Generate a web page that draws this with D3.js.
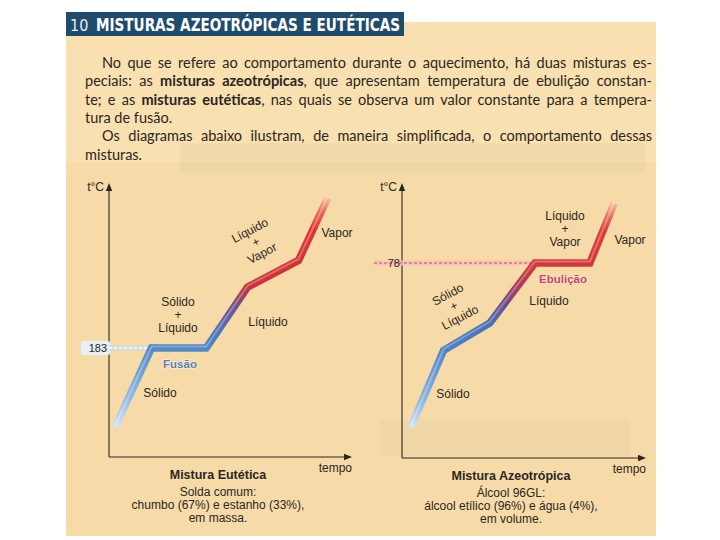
<!DOCTYPE html>
<html>
<head>
<meta charset="utf-8">
<script src="https://cdn.jsdelivr.net/npm/d3@7/dist/d3.min.js"></script>
<style>
  body { margin: 0; background: #fff; }
  svg { display: block; }
  .para { font-family: "Lato", "Liberation Sans", sans-serif; font-size: 14.5px; fill: #2b2622; }
  .lbl { font-family: "Liberation Sans", Arial, sans-serif; font-size: 12px; fill: #2b2622; }
</style>
</head>
<body>
<div id="page"></div>
<script>
// eutectic mixture (solder): time (arbitrary units) vs temperature
var eutTime = [0.25, 1.75, 4.0, 5.7, 7.8, 9.0];
var eutTemp = [50, 183, 183, 285, 330, 435];
var eutMark = 183;

// azeotropic mixture (alcohol 96GL)
var azeTime = [0.35, 1.7, 3.6, 5.45, 7.7, 8.7];
var azeTemp = [12, 43, 54, 78, 78, 102];
var azeMark = 78;

var titleNum = "10";
var titleText = "MISTURAS AZEOTRÓPICAS E EUTÉTICAS";

// paragraph lines, [text, bold] pieces
var paraLines = [
  [["No que se refere ao comportamento durante o aquecimento, há duas misturas es-", false]],
  [["peciais: as ", false], ["misturas azeotrópicas", true], [", que apresentam temperatura de ebulição constan-", false]],
  [["te; e as ", false], ["misturas eutéticas", true], [", nas quais se observa um valor constante para a tempera-", false]],
  [["tura de fusão.", false]],
  [["Os diagramas abaixo ilustram, de maneira simplificada, o comportamento dessas", false]],
  [["misturas.", false]]
];

var svg = d3.select("#page").append("svg")
    .attr("width", 720)
    .attr("height", 540);

var defs = svg.append("defs");

// beige page + faint show-through of the back page
svg.append("rect").attr("x", 66).attr("y", 22).attr("width", 590).attr("height", 514).attr("fill", "#f6dba9");
svg.append("rect").attr("x", 66).attr("y", 22).attr("width", 590).attr("height", 140).attr("fill", "#fae3b6").attr("opacity", 0.6);
svg.append("rect").attr("x", 180).attr("y", 143).attr("width", 465).attr("height", 30).attr("fill", "#8c8070").attr("opacity", 0.06);
svg.append("rect").attr("x", 380).attr("y", 420).attr("width", 250).attr("height", 36).attr("fill", "#8c8070").attr("opacity", 0.045);

// title bar
svg.append("rect").attr("x", 66).attr("y", 12).attr("width", 338).attr("height", 24).attr("fill", "#1f4b6c");
svg.append("text").attr("x", 70).attr("y", 30.5)
    .style("font-family", "'Liberation Sans Narrow', 'DejaVu Sans Condensed', sans-serif")
    .style("font-size", "16px").attr("fill", "#e8eef2").text(titleNum);
svg.append("text").attr("x", 96).attr("y", 31)
    .style("font-family", "'Liberation Sans Narrow', 'DejaVu Sans Condensed', sans-serif")
    .style("font-size", "18px").style("font-weight", "bold").attr("fill", "#fff")
    .attr("textLength", 304).attr("lengthAdjust", "spacingAndGlyphs")
    .text(titleText);

// paragraph, justified by word spacing
var lineX = [102, 85, 85, 85, 102, 85];
var justify = [true, true, true, false, true, false];
var rightEdge = 652;
paraLines.forEach(function(pieces, i) {
  var t = svg.append("text").attr("class", "para")
      .attr("x", lineX[i]).attr("y", 68 + i * 18.3);
  pieces.forEach(function(p) {
    t.append("tspan").style("font-weight", p[1] ? "bold" : null).text(p[0]);
  });
  if (justify[i]) {
    var natural = t.node().getComputedTextLength();
    var spaces = pieces.map(function(p) { return p[0]; }).join("").split(" ").length - 1;
    t.style("word-spacing", ((rightEdge - lineX[i] - natural) / spaces) + "px");
  }
});

function arrowHead(g, x, y, dir) {
  var pts = dir === "up"
    ? [[x, y], [x - 3.2, y + 8], [x + 3.2, y + 8]]
    : [[x, y], [x - 8, y - 3.2], [x - 8, y + 3.2]];
  g.append("path").attr("d", d3.line()(pts) + "Z").attr("fill", "#2b2622");
}

function heatingChart(opt) {
  var x = d3.scaleLinear().domain([0, 10]).range([opt.left, opt.right]);
  var y = d3.scaleLinear().domain(opt.tempDomain).range([opt.bottom, opt.top]);
  var g = svg.append("g");

  // axes
  g.append("line").attr("x1", opt.left).attr("x2", opt.left).attr("y1", opt.bottom).attr("y2", opt.top + 6)
      .attr("stroke", "#2b2622").attr("stroke-width", 1.1);
  g.append("line").attr("x1", opt.left).attr("x2", opt.right - 6).attr("y1", opt.bottom).attr("y2", opt.bottom)
      .attr("stroke", "#2b2622").attr("stroke-width", 1.1);
  arrowHead(g, opt.left, opt.top, "up");
  arrowHead(g, opt.right, opt.bottom, "right");

  g.append("text").attr("class", "lbl").attr("x", opt.left - 5).attr("y", opt.top + 8)
      .attr("text-anchor", "end").text("t°C");
  g.append("text").attr("class", "lbl").attr("x", opt.right).attr("y", opt.bottom + 15)
      .attr("text-anchor", "end").text("tempo");

  // reference line for the constant temperature
  var ym = y(opt.mark);
  var plateauStart = x(opt.time[opt.plateau]);
  if (opt.box) {
    g.append("rect").attr("x", opt.left - 28).attr("y", ym - 7).attr("width", 29).attr("height", 14)
        .attr("rx", 2).attr("fill", opt.box);
  }
  g.append("line").attr("x1", opt.refFrom).attr("x2", plateauStart).attr("y1", ym).attr("y2", ym)
      .attr("stroke", opt.band).attr("stroke-width", 5).attr("opacity", 0.8);
  g.append("line").attr("x1", opt.refFrom).attr("x2", plateauStart).attr("y1", ym).attr("y2", ym)
      .attr("stroke", opt.dash).attr("stroke-width", 1.6).attr("stroke-dasharray", "3,2");
  g.append("text").attr("class", "lbl").attr("x", opt.left - 2).attr("y", ym + 4)
      .attr("text-anchor", "end").style("font-size", "11px").text(opt.mark);

  // gradient along the curve (bottom to top)
  var yBot = y(d3.min(opt.temp)), yTop = y(d3.max(opt.temp));
  var grad = defs.append("linearGradient").attr("id", opt.id)
      .attr("gradientUnits", "userSpaceOnUse")
      .attr("x1", 0).attr("x2", 0).attr("y1", yBot).attr("y2", yTop);
  opt.stops.forEach(function(s) {
    grad.append("stop").attr("offset", s[0]).attr("stop-color", s[1]);
  });

  var pts = opt.time.map(function(t, i) { return [x(t), y(opt.temp[i])]; });
  var line = d3.line();
  g.append("path").attr("d", line(pts)).attr("fill", "none")
      .attr("stroke", "url(#" + opt.id + ")").attr("stroke-width", 7.5)
      .attr("stroke-linejoin", "miter").attr("stroke-linecap", "butt");
  g.append("path").attr("d", line(pts)).attr("fill", "none")
      .attr("transform", "translate(0,-1.5)")
      .attr("stroke", "#fff").attr("stroke-opacity", 0.28).attr("stroke-width", 2)
      .attr("stroke-linejoin", "miter");

  // annotations
  opt.labels.forEach(function(l) {
    var t = g.append("text").attr("class", "lbl").attr("text-anchor", "middle")
        .attr("transform", "translate(" + l.x + "," + l.y + ")" + (l.rot ? " rotate(" + l.rot + ")" : ""));
    l.lines.forEach(function(s, j) {
      t.append("tspan").attr("x", 0).attr("y", (j - (l.lines.length - 1) / 2) * 13 + 4).text(s);
    });
    if (l.style) {
      t.style("font-weight", "bold").style("font-size", "11.5px")
          .style("fill", l.style.fill).style("stroke", l.style.stroke)
          .style("stroke-width", "1.2px").style("paint-order", "stroke");
    }
  });

  opt.caption.forEach(function(s, j) {
    g.append("text").attr("class", "lbl").attr("x", opt.captionX).attr("y", opt.bottom + 22 + (j === 0 ? 0 : 4 + j * 13))
        .attr("text-anchor", "middle")
        .style("font-weight", j === 0 ? "bold" : null)
        .style("font-size", j === 0 ? "12.5px" : "12px")
        .text(s);
  });
}

heatingChart({
  id: "gEut", left: 109, right: 352, top: 183, bottom: 457,
  tempDomain: [0, 460], time: eutTime, temp: eutTemp, mark: eutMark, plateau: 1,
  refFrom: 109, box: "#e6eff8", band: "#c9dcef", dash: "#ffffff",
  stops: [[0, "#d4e4f4"], [0.12, "#95bbe3"], [0.34, "#5389c8"], [0.4, "#4a78ba"], [0.51, "#6a5896"],
          [0.58, "#a83c5c"], [0.62, "#cf3038"], [0.86, "#dd3535"], [0.94, "#e86a5a"], [1, "#f4c4a0"]],
  labels: [
    {x: 256, y: 242, rot: -28, lines: ["Líquido", "+", "Vapor"]},
    {x: 337, y: 233, lines: ["Vapor"]},
    {x: 178, y: 315, lines: ["Sólido", "+", "Líquido"]},
    {x: 268, y: 322, lines: ["Líquido"]},
    {x: 180, y: 364, lines: ["Fusão"], style: {fill: "#6a7d98", stroke: "#eef3fa"}},
    {x: 160, y: 393, lines: ["Sólido"]}
  ],
  captionX: 218,
  caption: ["Mistura Eutética", "Solda comum:", "chumbo (67%) e estanho (33%),", "em massa."]
});

heatingChart({
  id: "gAze", left: 402, right: 646, top: 183, bottom: 458,
  tempDomain: [0, 110], time: azeTime, temp: azeTemp, mark: azeMark, plateau: 3,
  refFrom: 374, box: null, band: "#f5c4c0", dash: "#e0707a",
  stops: [[0, "#d4e4f4"], [0.12, "#8fb6e0"], [0.345, "#4f84c4"], [0.456, "#4a72b5"], [0.544, "#6a4f90"],
          [0.633, "#ad3a55"], [0.72, "#d43838"], [0.876, "#dc3a3a"], [0.94, "#e87060"], [1, "#f4c4a0"]],
  labels: [
    {x: 454, y: 306, rot: -28, lines: ["Sólido", "+", "Líquido"]},
    {x: 565, y: 229, lines: ["Líquido", "+", "Vapor"]},
    {x: 630, y: 240, lines: ["Vapor"]},
    {x: 563, y: 279, lines: ["Ebulição"], style: {fill: "#c8485a", stroke: "#fbe4e0"}},
    {x: 549, y: 301, lines: ["Líquido"]},
    {x: 453, y: 394, lines: ["Sólido"]}
  ],
  captionX: 511,
  caption: ["Mistura Azeotrópica", "Álcool 96GL:", "álcool etílico (96%) e água (4%),", "em volume."]
});
</script>
</body>
</html>
